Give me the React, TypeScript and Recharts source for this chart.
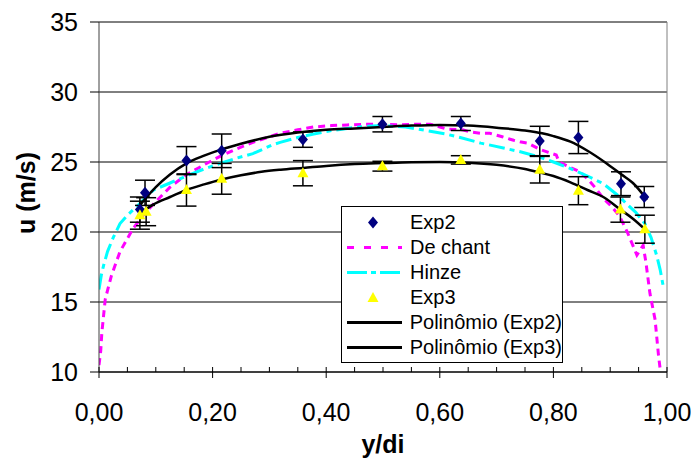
import React from 'react'
import {
  ComposedChart,
  Line,
  Scatter,
  ErrorBar,
  XAxis,
  YAxis,
  CartesianGrid,
  ReferenceLine,
} from 'recharts'

// axis ticks
const xTicks = [0, 0.05, 0.1, 0.15, 0.2, 0.25, 0.3, 0.35, 0.4, 0.45, 0.5, 0.55, 0.6, 0.65, 0.7, 0.75, 0.8, 0.85, 0.9, 0.95, 1]
const yTicks = [10, 15, 20, 25, 30, 35]

// Exp2 measurements (y/di, u, error)
const exp2X = [0.072, 0.081, 0.154, 0.216, 0.359, 0.499, 0.637, 0.776, 0.844, 0.919, 0.96]
const exp2U = [21.6, 22.8, 25.1, 25.8, 26.6, 27.7, 27.75, 26.5, 26.75, 23.45, 22.5]
const exp2Err = [0.9, 0.9, 1.0, 1.2, 0.55, 0.55, 0.5, 1.05, 1.15, 0.85, 0.75]

// Exp3 measurements
const exp3X = [0.072, 0.083, 0.154, 0.216, 0.359, 0.499, 0.637, 0.776, 0.844, 0.918, 0.961]
const exp3U = [21.2, 21.45, 23.0, 23.8, 24.2, 24.7, 25.15, 24.45, 22.95, 21.6, 20.2]
const exp3Err = [1.0, 1.0, 1.15, 1.1, 0.9, 0.35, 0.3, 0.95, 1.0, 0.9, 1.0]

// De chant profile
const deChant: [number, number][] = [
  [0, 10.5], [0.003, 11.5], [0.005, 12.8], [0.011, 15.2], [0.022, 16.9], [0.037, 18.6],
  [0.06, 20.25], [0.078, 21.2], [0.096, 22.0], [0.125, 23.2], [0.154, 24.1], [0.185, 24.8],
  [0.213, 25.4], [0.24, 25.9], [0.271, 26.4], [0.3, 26.8], [0.319, 27.05], [0.35, 27.3],
  [0.378, 27.5], [0.41, 27.6], [0.437, 27.65], [0.47, 27.7], [0.5, 27.7], [0.53, 27.65],
  [0.552, 27.7], [0.583, 27.7], [0.6, 27.5], [0.613, 27.35], [0.64, 27.3], [0.653, 27.15],
  [0.672, 27.05], [0.688, 27.05], [0.71, 26.8], [0.73, 26.55], [0.741, 26.45], [0.755, 26.35],
  [0.776, 25.9], [0.79, 25.7], [0.805, 25.5], [0.81, 25.0], [0.83, 24.6], [0.847, 24.3],
  [0.86, 23.8], [0.875, 23.1], [0.888, 22.4], [0.903, 21.8], [0.917, 21.1], [0.93, 20.0],
  [0.947, 18.35], [0.958, 19.05], [0.963, 17.8], [0.97, 15.6], [0.979, 13.75], [0.985, 11.2],
  [0.988, 10.2],
]

// Hinze profile
const hinze: [number, number][] = [
  [0, 15.9], [0.004, 16.9], [0.008, 17.6], [0.015, 18.6], [0.025, 19.6], [0.037, 20.6],
  [0.05, 21.2], [0.066, 21.8], [0.096, 23.0], [0.125, 23.5], [0.154, 24.0], [0.185, 24.5],
  [0.213, 24.9], [0.24, 25.25], [0.271, 25.6], [0.307, 26.25], [0.319, 26.4], [0.35, 26.75],
  [0.378, 27.0], [0.41, 27.25], [0.437, 27.4], [0.47, 27.55], [0.5, 27.6], [0.54, 27.5],
  [0.583, 27.2], [0.61, 27.0], [0.636, 26.75], [0.672, 26.35], [0.712, 26.0], [0.745, 25.7],
  [0.776, 25.35], [0.8, 25.0], [0.829, 24.55], [0.86, 24.0], [0.888, 23.45], [0.917, 22.5],
  [0.929, 22.0], [0.945, 21.4], [0.961, 20.6], [0.972, 19.6], [0.982, 18.3], [0.988, 17.3],
  [0.9935, 16.1],
]

// polynomial trend lines
const polyExp2: [number, number][] = [
  [0.07, 21.8], [0.08, 22.3], [0.1, 23.2], [0.125, 24.1], [0.154, 24.9], [0.185, 25.45],
  [0.216, 25.9], [0.25, 26.3], [0.3, 26.8], [0.35, 27.1], [0.4, 27.3], [0.45, 27.4],
  [0.5, 27.5], [0.55, 27.6], [0.6, 27.65], [0.65, 27.6], [0.7, 27.45], [0.75, 27.25],
  [0.78, 27.05], [0.8, 26.85], [0.83, 26.45], [0.86, 25.8], [0.89, 25.0], [0.92, 24.1],
  [0.94, 23.5], [0.965, 22.3],
]
const polyExp3: [number, number][] = [
  [0.07, 21.25], [0.095, 21.95], [0.125, 22.5], [0.154, 23.0], [0.185, 23.4], [0.216, 23.75],
  [0.25, 24.05], [0.286, 24.3], [0.32, 24.45], [0.36, 24.58], [0.4, 24.72], [0.45, 24.85],
  [0.5, 24.92], [0.55, 24.98], [0.6, 25.0], [0.65, 24.95], [0.7, 24.8], [0.75, 24.5],
  [0.776, 24.25], [0.8, 24.0], [0.83, 23.55], [0.86, 23.0], [0.89, 22.45], [0.918, 21.6],
  [0.94, 20.95], [0.965, 20.05],
]

const toPoints = (arr: [number, number][]) => arr.map(([x, u]) => ({ x, u }))
const exp2Data = exp2X.map((x, i) => ({ x, u: exp2U[i], err: exp2Err[i] }))
const exp3Data = exp3X.map((x, i) => ({ x, u: exp3U[i], err: exp3Err[i] }))

const FONT = 'Arial, "Liberation Sans", sans-serif'

const Diamond = (p: any) => {
  const { cx, cy } = p
  return <polygon points={`${cx},${cy - 6} ${cx + 5},${cy} ${cx},${cy + 6} ${cx - 5},${cy}`} fill="#000080" />
}

const Triangle = (p: any) => {
  const { cx, cy } = p
  return <polygon points={`${cx},${cy - 6} ${cx + 5.5},${cy + 4} ${cx - 5.5},${cy + 4}`} fill="#FFFF00" />
}

const XTick = (props: any) => {
  const { x, y, payload } = props
  const v = payload.value
  const major = Math.abs(v * 5 - Math.round(v * 5)) < 1e-6
  return (
    <g>
      <line x1={x} x2={x} y1={y - 5} y2={major ? y + 6 : y} stroke="#000" />
      {major && (
        <text x={x} y={y + 49} textAnchor="middle" fontSize={25} fill="#000">
          {v.toFixed(2).replace('.', ',')}
        </text>
      )}
    </g>
  )
}

const legendItems = [
  { name: 'Exp2', kind: 'diamond' },
  { name: 'De chant', kind: 'dechant' },
  { name: 'Hinze', kind: 'hinze' },
  { name: 'Exp3', kind: 'triangle' },
  { name: 'Polinômio (Exp2)', kind: 'solid' },
  { name: 'Polinômio (Exp3)', kind: 'solid' },
]

function LegendIcon({ kind }: { kind: string }) {
  return (
    <svg width={62} height={25} style={{ display: 'block' }}>
      {kind === 'diamond' && <Diamond cx={31} cy={12.5} />}
      {kind === 'triangle' && <Triangle cx={31} cy={13} />}
      {kind === 'dechant' && (
        <line x1={5} x2={60} y1={12.5} y2={12.5} stroke="#FF00FF" strokeWidth={3} strokeDasharray="7 10" />
      )}
      {kind === 'hinze' && (
        <line x1={5} x2={60} y1={12.5} y2={12.5} stroke="#00FFFF" strokeWidth={3} strokeDasharray="20 4 5 4" />
      )}
      {kind === 'solid' && <line x1={5} x2={60} y1={12.5} y2={12.5} stroke="#000" strokeWidth={3} />}
    </svg>
  )
}

export default function App() {
  return (
    <div style={{ position: 'absolute', left: 0, top: 0, width: 691, height: 461, fontFamily: FONT, background: '#fff' }}>
      <ComposedChart width={691} height={461} margin={{ top: 22, right: 24, bottom: 0, left: 0 }}>
        <CartesianGrid vertical={false} stroke="#000" />
        <XAxis
          type="number"
          dataKey="x"
          domain={[0, 1]}
          ticks={xTicks}
          interval={0}
          allowDataOverflow
          height={89}
          tickSize={0}
          tickMargin={0}
          tickLine={false}
          axisLine={{ stroke: '#000' }}
          tick={<XTick />}
          label={() => (
            <text x={383} y={453} textAnchor="middle" fontSize={25} fontWeight="bold" fill="#000">
              y/di
            </text>
          )}
        />
        <YAxis
          type="number"
          domain={[10, 35]}
          ticks={yTicks}
          interval={0}
          allowDataOverflow
          width={99}
          tickSize={9}
          tickMargin={12}
          tickLine={{ stroke: '#000' }}
          axisLine={{ stroke: '#404040' }}
          tick={{ fontSize: 25, fill: '#000' }}
          label={() => (
            <text x={35} y={193} transform="rotate(-90 35 193)" textAnchor="middle" fontSize={25} fontWeight="bold" fill="#000">
              u (m/s)
            </text>
          )}
        />
        <ReferenceLine y={35} stroke="#808080" />
        <ReferenceLine x={1} stroke="#808080" />
        <Line data={toPoints(deChant)} dataKey="u" type="linear" dot={false} stroke="#FF00FF" strokeWidth={3} strokeDasharray="7 5" isAnimationActive={false} />
        <Line data={toPoints(hinze)} dataKey="u" type="linear" dot={false} stroke="#00FFFF" strokeWidth={3} strokeDasharray="16 5 5 5" isAnimationActive={false} />
        <Scatter data={exp2Data} dataKey="u" shape={Diamond} isAnimationActive={false}>
          <ErrorBar dataKey="err" direction="y" width={10} stroke="#000" strokeWidth={1.5} />
        </Scatter>
        <Scatter data={exp3Data} dataKey="u" shape={Triangle} isAnimationActive={false}>
          <ErrorBar dataKey="err" direction="y" width={10} stroke="#000" strokeWidth={1.5} />
        </Scatter>
        <Line data={toPoints(polyExp2)} dataKey="u" type="monotone" dot={false} stroke="#000" strokeWidth={2.5} isAnimationActive={false} />
        <Line data={toPoints(polyExp3)} dataKey="u" type="monotone" dot={false} stroke="#000" strokeWidth={2.5} isAnimationActive={false} />
      </ComposedChart>
      <div
        style={{
          position: 'absolute',
          left: 341,
          top: 206,
          width: 222,
          height: 157,
          border: '1px solid #000',
          background: '#fff',
          paddingTop: 3,
          boxSizing: 'border-box',
        }}
      >
        {legendItems.map((it) => (
          <div key={it.name} style={{ display: 'flex', alignItems: 'center', height: 25 }}>
            <div style={{ width: 68 }}>
              <LegendIcon kind={it.kind} />
            </div>
            <span style={{ fontSize: 20, lineHeight: '25px', whiteSpace: 'nowrap' }}>{it.name}</span>
          </div>
        ))}
      </div>
    </div>
  )
}
